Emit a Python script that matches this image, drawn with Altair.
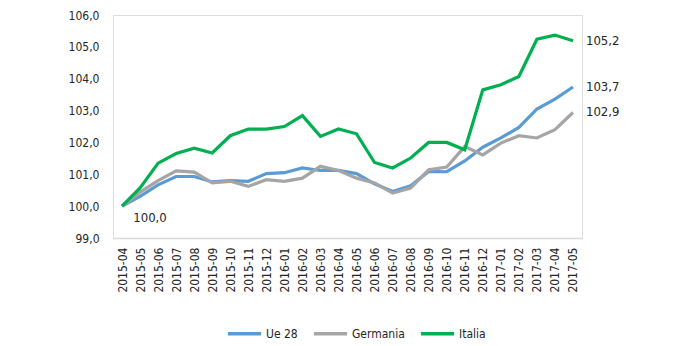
import altair as alt
import pandas as pd

months = ["2015-04", "2015-05", "2015-06", "2015-07", "2015-08", "2015-09", "2015-10",
          "2015-11", "2015-12", "2016-01", "2016-02", "2016-03", "2016-04", "2016-05",
          "2016-06", "2016-07", "2016-08", "2016-09", "2016-10", "2016-11", "2016-12",
          "2017-01", "2017-02", "2017-03", "2017-04", "2017-05"]

ue28 = [100.0, 100.31, 100.67, 100.93, 100.93, 100.76, 100.80, 100.78, 101.02, 101.05,
        101.20, 101.12, 101.12, 101.02, 100.70, 100.46, 100.64, 101.09, 101.08, 101.42,
        101.85, 102.14, 102.47, 103.05, 103.36, 103.74]
germania = [100.0, 100.44, 100.80, 101.11, 101.07, 100.73, 100.78, 100.62, 100.83, 100.78,
            100.88, 101.25, 101.12, 100.88, 100.73, 100.41, 100.57, 101.14, 101.23, 101.87,
            101.61, 101.98, 102.21, 102.14, 102.40, 102.94]
italia = [100.0, 100.57, 101.35, 101.65, 101.82, 101.67, 102.21, 102.42, 102.42, 102.50,
          102.84, 102.19, 102.42, 102.27, 101.37, 101.20, 101.51, 102.00, 102.00, 101.77,
          103.65, 103.81, 104.07, 105.24, 105.37, 105.19]

y_ticks = [99, 100, 101, 102, 103, 104, 105, 106]
series_names = ["Ue 28", "Germania", "Italia"]
series_colors = ["#5B9BD5", "#A5A5A5", "#00B050"]

rows = []
for name, vals in zip(series_names, [ue28, germania, italia]):
    for m, v in zip(months, vals):
        rows.append({"mese": m, "serie": name, "valore": v})
df = pd.DataFrame(rows)

FONT = "DejaVu Sans Condensed, Liberation Sans Narrow, Arial Narrow, Liberation Sans"
FS = 12
TXT = "#262626"

base = alt.Chart(df)

x_scale = alt.Scale(type="point", padding=0.5)
y_scale = alt.Scale(domain=[99, 106], nice=False, zero=False)

x_axis = alt.Axis(title=None, labelAngle=-90, labelPadding=9, ticks=False,
                  domain=True, domainColor="#D9D9D9", domainWidth=1.5,
                  labelOverlap=False,
                  labelFont=FONT, labelFontSize=FS, labelColor=TXT)
y_axis = alt.Axis(title=None, values=y_ticks, tickCount=8,
                  labelExpr="replace(format(datum.value, '.1f'), '.', ',')",
                  domain=False, ticks=False, grid=False, labelPadding=14,
                  labelOverlap=False,
                  labelFont=FONT, labelFontSize=FS, labelColor=TXT)

def xe():
    return alt.X("mese:O", sort=months, scale=x_scale, axis=x_axis)

def ye():
    return alt.Y("valore:Q", scale=y_scale, axis=y_axis)

lines = base.mark_line(strokeWidth=3.2).encode(
    x=xe(),
    y=ye(),
    color=alt.Color("serie:N", sort=series_names,
                    scale=alt.Scale(domain=series_names, range=series_colors),
                    legend=alt.Legend(title=None, orient="none", direction="horizontal",
                                      legendX=113, legendY=300, symbolType="stroke",
                                      symbolSize=1100, symbolStrokeWidth=3.5,
                                      labelFont=FONT, labelFontSize=FS, labelColor=TXT,
                                      labelOffset=3, columnPadding=8)),
)

end_labels = base.transform_filter(
    alt.datum.mese == months[-1]
).transform_calculate(
    lab="replace(format(datum.valore, '.1f'), '.', ',')"
).mark_text(align="left", baseline="middle", dx=13, font=FONT, fontSize=FS + 1, color=TXT).encode(
    x=xe(), y=ye(), text="lab:N"
)

start_label = base.transform_filter(
    (alt.datum.mese == months[0]) & (alt.datum.serie == "Italia")
).transform_calculate(
    lab="replace(format(datum.valore, '.1f'), '.', ',')"
).mark_text(align="center", baseline="middle", dx=28, dy=12, font=FONT, fontSize=FS + 1, color=TXT).encode(
    x=xe(), y=ye(), text="lab:N"
)

chart = alt.layer(lines, end_labels, start_label).properties(
    width=469, height=223,
    autosize=alt.AutoSizeParams(type="none"),
    padding={"left": 113, "top": 15, "right": 118, "bottom": 108},
).configure_view(strokeWidth=0).configure(background="white")

chart.save("out.html", embed_options={"renderer": "svg", "actions": False})
